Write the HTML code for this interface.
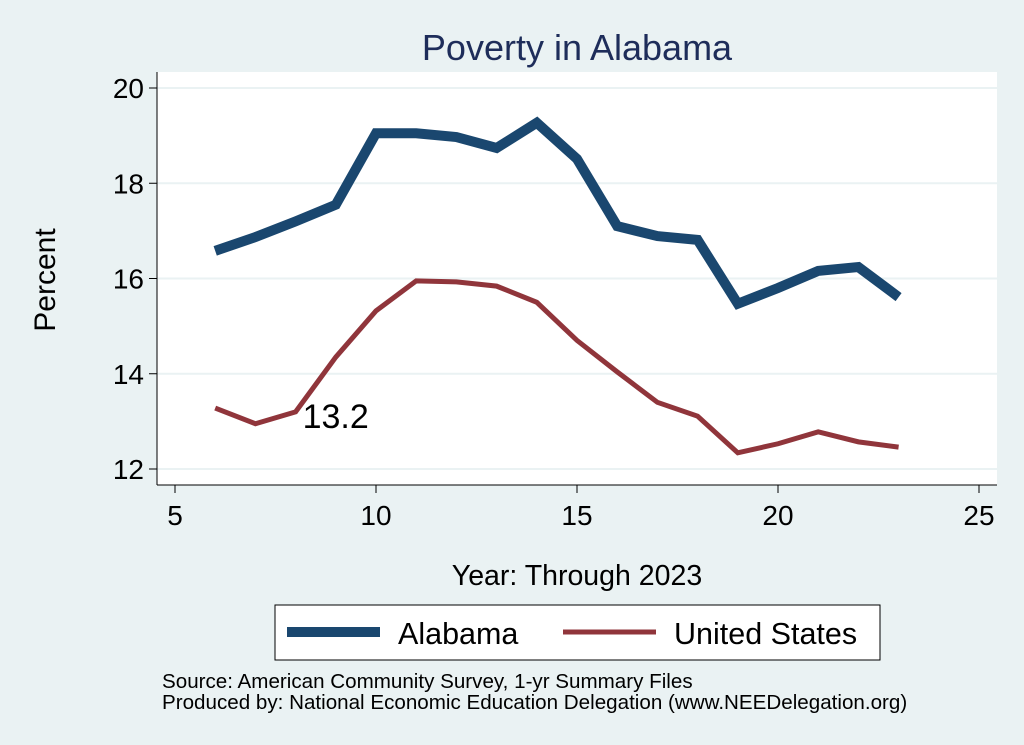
<!DOCTYPE html>
<html><head><meta charset="utf-8"><style>
body{margin:0;background:#eaf2f3;}
svg{display:block;font-family:"Liberation Sans",sans-serif;}
</style></head><body>
<svg id="c" width="1024" height="745">
<rect x="0" y="0" width="1024" height="745" fill="#eaf2f3"/>
<text x="577" y="60" font-size="36" fill="#1e2d5a" text-anchor="middle">Poverty in Alabama</text>
<rect x="157" y="72" width="840" height="413" fill="#fff"/>
<g id="grid"></g><g id="axes"></g><g id="series"></g>
<text x="55" y="280" font-size="30" fill="#000" text-anchor="middle" transform="rotate(-90 55 280)">Percent</text>
<text x="577" y="585" font-size="28.5" fill="#000" text-anchor="middle">Year: Through 2023</text>
<rect x="275" y="605" width="605" height="55" fill="#fff" stroke="#000" stroke-width="1"/>
<line x1="287" y1="632" x2="380" y2="632" stroke="#1a476f" stroke-width="10"/>
<text x="398" y="644" font-size="30.5">Alabama</text>
<line x1="563" y1="632" x2="656" y2="632" stroke="#90353b" stroke-width="5"/>
<text x="674" y="644" font-size="30.5">United States</text>
<text x="162" y="688" font-size="20.6">Source: American Community Survey, 1-yr Summary Files</text>
<text x="162" y="709" font-size="20.6">Produced by: National Economic Education Delegation (www.NEEDelegation.org)</text>
</svg>
<script>
const years=[6,7,8,9,10,11,12,13,14,15,16,17,18,19,20,21,22,23];
const alabama=[16.58,16.87,17.2,17.55,19.05,19.05,18.97,18.74,19.27,18.51,17.1,16.89,16.81,15.47,15.8,16.16,16.24,15.61];
const unitedStates=[13.28,12.95,13.2,14.35,15.32,15.95,15.93,15.84,15.5,14.7,14.04,13.4,13.11,12.34,12.53,12.78,12.57,12.46];
const xTicks=[5,10,15,20,25];
const yTicks=[12,14,16,18,20];
const labelYear=8, labelText="13.2";
const NS="http://www.w3.org/2000/svg";
const X=v=>175+(v-5)*(979-175)/20;
const Y=v=>469-(v-12)*(469-88)/8;
function mk(t,a,p){const e=document.createElementNS(NS,t);for(const k in a)e.setAttribute(k,a[k]);p.appendChild(e);return e;}
const grid=document.getElementById('grid'),axes=document.getElementById('axes'),ser=document.getElementById('series');
yTicks.forEach(v=>{
 const g=mk('line',{x1:157,x2:997,y1:Y(v),y2:Y(v),stroke:'#eaf2f3','stroke-width':2},grid);
 
 
 const t=mk('line',{x1:149,x2:157,y1:Y(v),y2:Y(v),stroke:'#000'},axes);
 
 
 const l=mk('text',{x:144,y:Y(v)+10,'font-size':28,'text-anchor':'end'},axes);l.textContent=v;
 
 
});
mk('line',{x1:157,x2:157,y1:72,y2:485,stroke:'#000'},axes);
mk('line',{x1:157,x2:997,y1:485,y2:485,stroke:'#000'},axes);
xTicks.forEach(v=>{
 const t=mk('line',{x1:X(v),x2:X(v),y1:485,y2:493,stroke:'#000'},axes);
 
 
 const l=mk('text',{x:X(v),y:525,'font-size':28,'text-anchor':'middle'},axes);l.textContent=v;
 
 
});
function line(vals,color,w,name){
 const p=mk('polyline',{points:years.map((y,i)=>X(y)+','+Y(vals[i])).join(' '),fill:'none',stroke:color,'stroke-width':w,'stroke-linejoin':'miter'},ser);
 
 
}
line(alabama,'#1a476f',10,'alabama-line');
line(unitedStates,'#90353b',5,'united-states-line');
const i=years.indexOf(labelYear);
const lb=mk('text',{x:X(labelYear)+7,y:Y(unitedStates[i])+16,'font-size':34},ser);lb.textContent=labelText;


</script>
</body></html>
